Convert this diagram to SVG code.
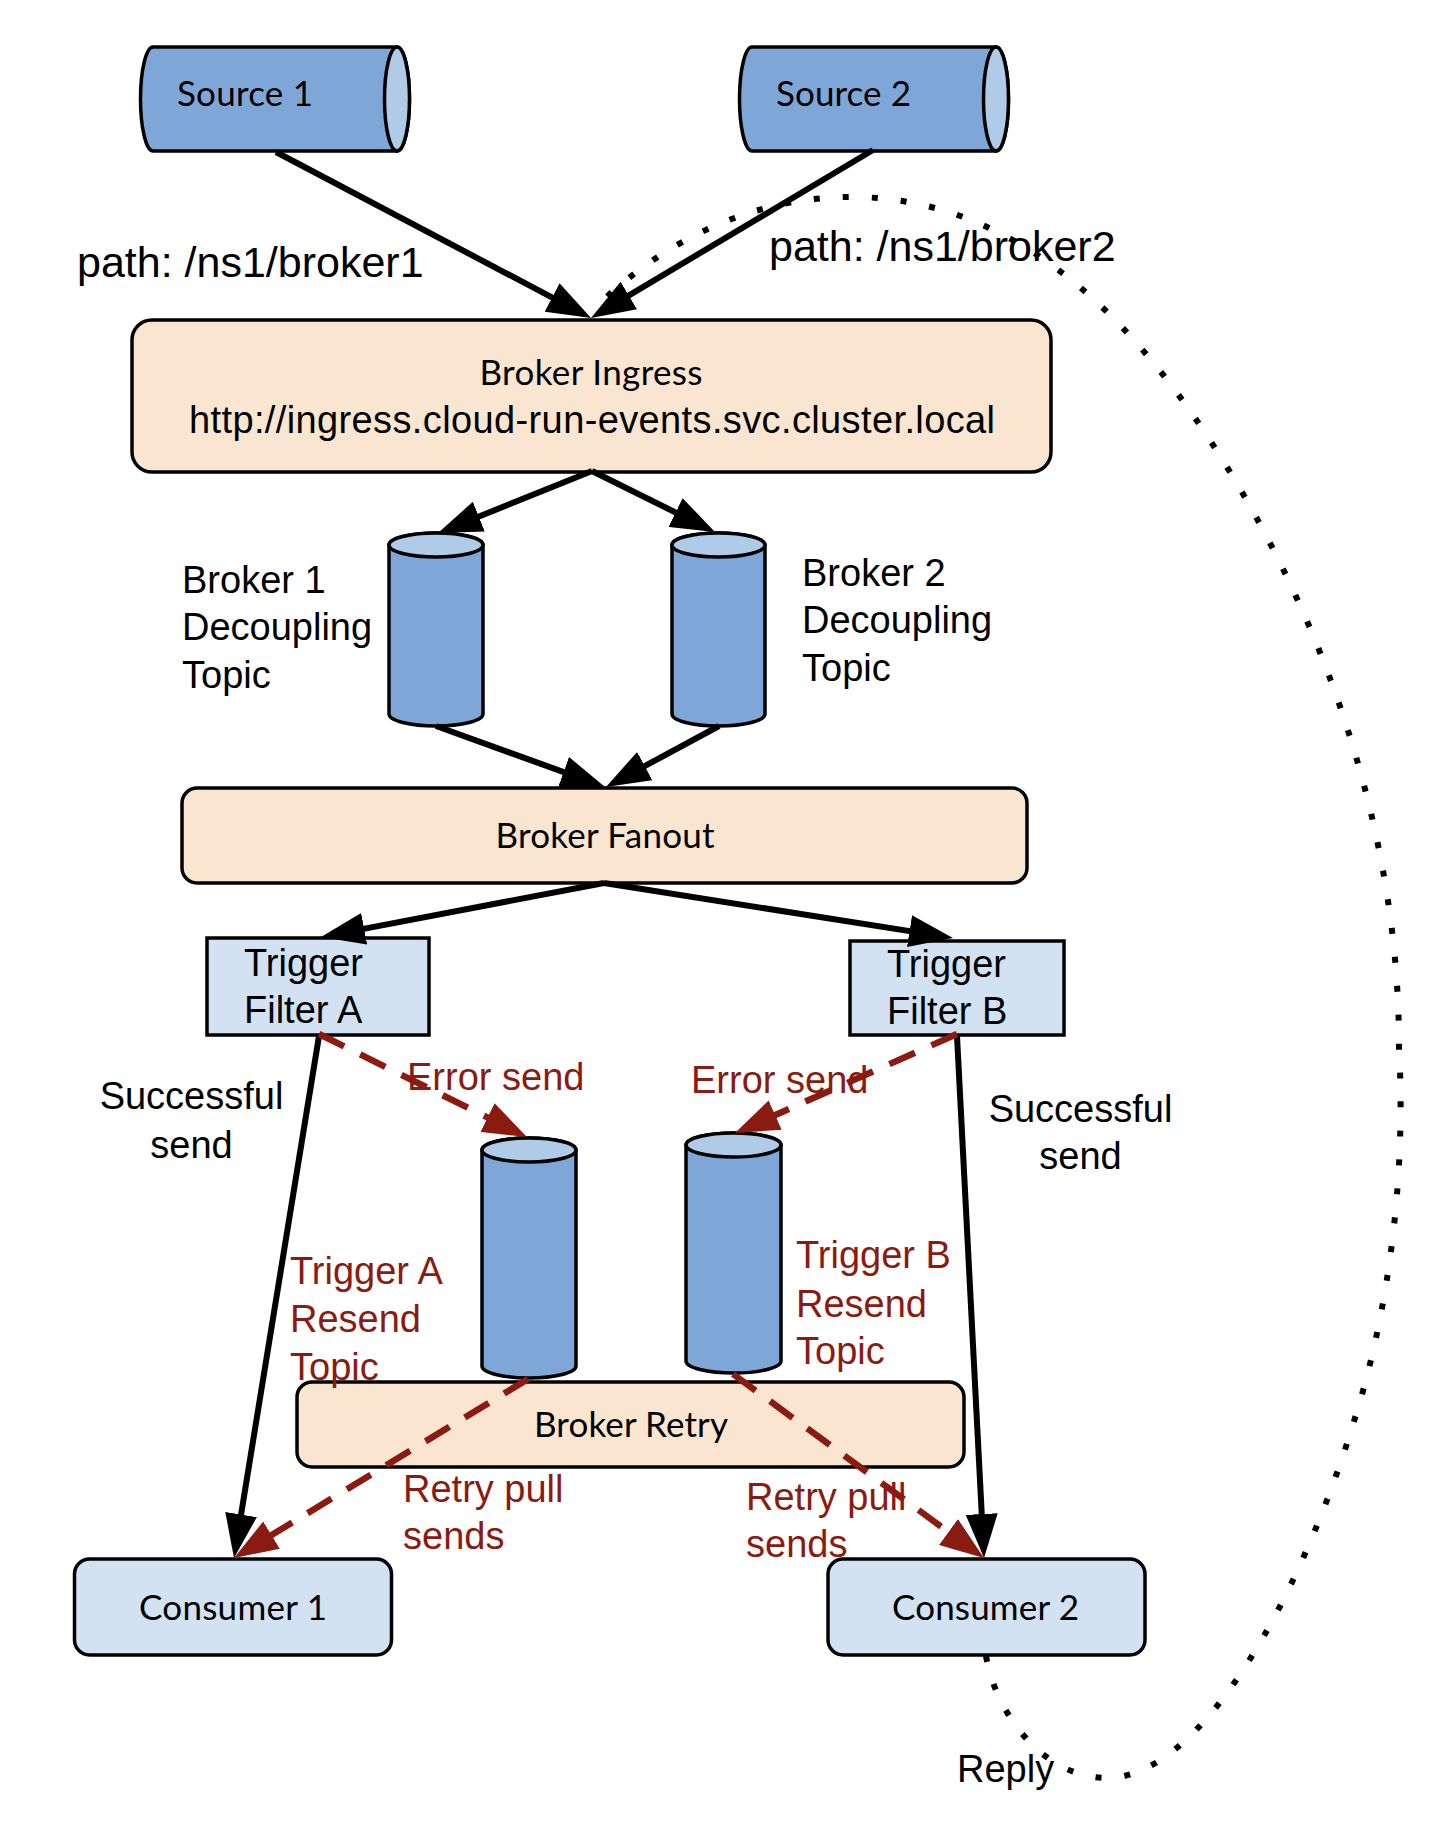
<svg xmlns="http://www.w3.org/2000/svg" width="1442" height="1822" viewBox="0 0 1442 1822">
<defs>
<style>
.box{fill:#F9E5D0;stroke:#000;stroke-width:3.5}
.lb{fill:#D2E2F3;stroke:#000;stroke-width:3.5}
.cyl{fill:#7EA7D8;stroke:#000;stroke-width:3.5}
.cap{fill:#B0CBE8;stroke:#000;stroke-width:3.5}
.cal{font-family:Lato,"Open Sans",sans-serif;font-size:35px;fill:#000}
.ar{font-family:"Liberation Sans",Arial,sans-serif;font-size:38px;fill:#000}
.big{font-size:43px}
.red{fill:#8B1A10}
.blk{stroke:#000;stroke-width:6;fill:none;marker-end:url(#ab)}
.dash{stroke:#8B1A10;stroke-width:6.5;fill:none;stroke-dasharray:28 18;marker-end:url(#arr)}
.dot{stroke:#000;stroke-width:6;fill:none;stroke-dasharray:6 23}
</style>
<marker id="ab" markerUnits="userSpaceOnUse" markerWidth="44" markerHeight="32" refX="34" refY="16" orient="auto"><path d="M0,0 L44,16 L0,32 Z" fill="#000"/></marker>
<marker id="arr" markerUnits="userSpaceOnUse" markerWidth="44" markerHeight="32" refX="34" refY="16" orient="auto"><path d="M0,0 L44,16 L0,32 Z" fill="#8B1A10"/></marker>
</defs>
<rect x="0" y="0" width="1442" height="1822" fill="#fff"/>

<g id="source1">
<path class="cyl" d="M153,47 L397,47 A12.5,52 0 0 1 397,151 L153,151 A12.5,52 0 0 1 153,47 Z"/>
<ellipse class="cap" cx="397" cy="99" rx="12.5" ry="52"/>
<text class="cal" x="177" y="106" textLength="136">Source 1</text>
</g>
<g id="source2">
<path class="cyl" d="M752,47 L996,47 A12.5,52 0 0 1 996,151 L752,151 A12.5,52 0 0 1 752,47 Z"/>
<ellipse class="cap" cx="996" cy="99" rx="12.5" ry="52"/>
<text class="cal" x="776" y="106" textLength="135">Source 2</text>
</g>

<g id="ingress">
<rect class="box" x="132" y="320" width="919" height="152" rx="20"/>
<text class="cal" x="591" y="385" text-anchor="middle" textLength="223">Broker Ingress</text>
<text class="ar" x="592" y="433" text-anchor="middle" font-size="39" textLength="806">http://ingress.cloud-run-events.svc.cluster.local</text>
</g>

<g id="topic1">
<path class="cyl" d="M389,545 A47,12 0 0 1 483,545 L483,714 A47,12 0 0 1 389,714 Z"/>
<ellipse class="cap" cx="436" cy="545" rx="47" ry="12"/>
</g>
<g id="topic2">
<path class="cyl" d="M672,545 A46.5,12 0 0 1 765,545 L765,714 A46.5,12 0 0 1 672,714 Z"/>
<ellipse class="cap" cx="718.5" cy="545" rx="46.5" ry="12"/>
</g>

<g id="fanout">
<rect class="box" x="182" y="788" width="845" height="95" rx="15"/>
<text class="cal" x="605" y="848" text-anchor="middle" textLength="219">Broker Fanout</text>
</g>

<g id="triggerA">
<rect class="lb" x="207" y="938" width="222" height="97"/>
<text class="ar" x="244" y="976">Trigger</text>
<text class="ar" x="244" y="1023">Filter A</text>
</g>
<g id="triggerB">
<rect class="lb" x="850" y="941" width="214" height="94"/>
<text class="ar" x="887" y="977">Trigger</text>
<text class="ar" x="887" y="1024">Filter B</text>
</g>

<g id="resendA">
<path class="cyl" d="M482,1150 A47,12 0 0 1 576,1150 L576,1366 A47,12 0 0 1 482,1366 Z"/>
<ellipse class="cap" cx="529" cy="1150" rx="47" ry="12"/>
</g>
<g id="resendB">
<path class="cyl" d="M686,1145 A47.5,12 0 0 1 781,1145 L781,1361 A47.5,12 0 0 1 686,1361 Z"/>
<ellipse class="cap" cx="733.5" cy="1145" rx="47.5" ry="12"/>
</g>

<g id="retry">
<rect class="box" x="297" y="1382" width="667" height="85" rx="15"/>
<text class="cal" x="631" y="1437" text-anchor="middle" textLength="194">Broker Retry</text>
</g>

<g id="consumer1">
<rect class="lb" x="74.5" y="1559" width="317" height="96" rx="15"/>
<text class="cal" x="233" y="1620" text-anchor="middle" textLength="188">Consumer 1</text>
</g>
<g id="consumer2">
<rect class="lb" x="828" y="1559" width="317" height="96" rx="15"/>
<text class="cal" x="985.5" y="1620" text-anchor="middle" textLength="187">Consumer 2</text>
</g>

<g id="labels">
<text class="ar big" x="77" y="277">path: /ns1/broker1</text>
<text class="ar big" x="769" y="261">path: /ns1/broker2</text>
<text class="ar" x="182" y="593">Broker 1</text>
<text class="ar" x="182" y="640">Decoupling</text>
<text class="ar" x="182" y="688">Topic</text>
<text class="ar" x="802" y="586">Broker 2</text>
<text class="ar" x="802" y="633">Decoupling</text>
<text class="ar" x="802" y="681">Topic</text>
<text class="ar" x="191.5" y="1109" text-anchor="middle">Successful</text>
<text class="ar" x="191.5" y="1158" text-anchor="middle">send</text>
<text class="ar" x="1080.5" y="1122" text-anchor="middle">Successful</text>
<text class="ar" x="1080.5" y="1169" text-anchor="middle">send</text>
<text class="ar red" x="407" y="1090">Error send</text>
<text class="ar red" x="691" y="1093">Error send</text>
<text class="ar red" x="290" y="1284">Trigger A</text>
<text class="ar red" x="290" y="1332">Resend</text>
<text class="ar red" x="290" y="1380">Topic</text>
<text class="ar red" x="796" y="1268">Trigger B</text>
<text class="ar red" x="796" y="1317">Resend</text>
<text class="ar red" x="796" y="1364">Topic</text>
<text class="ar red" x="403" y="1502">Retry pull</text>
<text class="ar red" x="403" y="1549">sends</text>
<text class="ar red" x="746" y="1510">Retry pull</text>
<text class="ar red" x="746" y="1557">sends</text>
<text class="ar" x="957" y="1782">Reply</text>
</g>

<g id="connectors">
<path class="dot" d="M986,1656 C995,1710 1040,1776 1105,1778 C1200,1780 1300,1600 1355,1418 C1395,1290 1405,1150 1399,1050 C1400,850 1335,640 1222,459 C1127,307 1010,200 857,197 C750,195 660,245 598,305"/>
<line class="blk" x1="276" y1="152" x2="582.2" y2="313.3"/>
<line class="blk" x1="873" y1="150" x2="599.6" y2="312.9"/>
<line class="blk" x1="592" y1="471" x2="447.3" y2="529.3"/>
<line class="blk" x1="592" y1="471" x2="706" y2="527.6"/>
<line class="blk" x1="436" y1="726" x2="595.6" y2="783.6"/>
<line class="blk" x1="719" y1="726" x2="614.8" y2="782.2"/>
<line class="blk" x1="604" y1="883" x2="330.8" y2="935.1"/>
<line class="blk" x1="604" y1="883" x2="943.1" y2="936.4"/>
<line class="blk" x1="319" y1="1036" x2="235.6" y2="1548.1"/>
<line class="blk" x1="957" y1="1036" x2="983.5" y2="1548"/>
<line class="dash" x1="319" y1="1034" x2="518" y2="1132.6"/>
<line class="dash" x1="957" y1="1034" x2="744.1" y2="1128.9"/>
<line class="dash" x1="528" y1="1379" x2="242.5" y2="1552.8"/>
<line class="dash" x1="733" y1="1374" x2="975.9" y2="1552.1"/>
</g>
</svg>
